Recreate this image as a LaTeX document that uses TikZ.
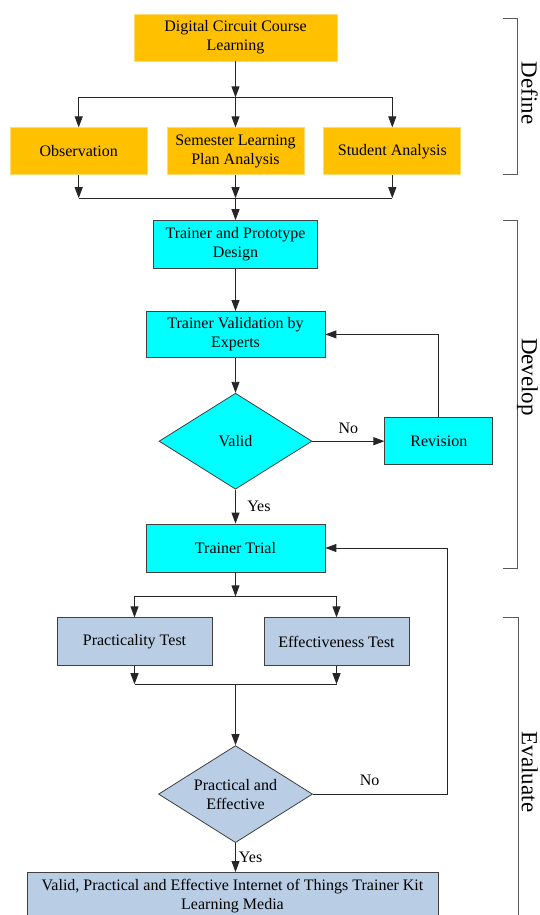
\documentclass[tikz,border=0pt]{standalone}
\usepackage{fontspec}
\setmainfont{Liberation Serif}
\usetikzlibrary{arrows.meta, positioning, shapes.geometric}
\definecolor{defineorange}{RGB}{255,192,0}
\definecolor{developcyan}{RGB}{0,255,255}
\definecolor{evalblue}{RGB}{185,205,229}
\definecolor{edgegray}{RGB}{64,64,64}

\begin{document}
\begin{tikzpicture}[
  x=1pt, y=-1pt,
  every node/.style={font=\fontsize{16}{19}\selectfont},
  box/.style={draw=edgegray, line width=0.8pt, align=center, inner sep=2pt, minimum height=47pt},
  definebox/.style={box, fill=defineorange, draw=defineorange!55!white},
  developbox/.style={box, fill=developcyan},
  evalbox/.style={box, fill=evalblue},
  decision/.style={diamond, draw=edgegray, line width=0.8pt, align=center, inner sep=0pt, aspect=1.6},
  arrow/.style={-{Triangle[length=11pt, width=8pt]}, line width=0.9pt, draw=black!85},
  link/.style={line width=0.9pt, draw=black!85},
  bracket/.style={line width=0.8pt, draw=black!65},
  phase/.style={rotate=-90, anchor=north, inner sep=1pt, font=\fontsize{23}{27}\selectfont},
]
  \useasboundingbox (0,0) rectangle (540,915);

  \node[definebox, minimum width=203pt] (course) at (235.5,37.5) {Digital Circuit Course\\Learning};
  \node[definebox, minimum width=137pt, below=66pt of course] (semester) {Semester Learning\\Plan Analysis};
  \node[definebox, minimum width=137pt, left=19pt of semester] (observation) {Observation};
  \node[definebox, minimum width=137pt, right=19pt of semester] (student) {Student Analysis};

  \node[developbox, minimum width=164pt, minimum height=48pt, below=45pt of semester] (design) {Trainer and Prototype\\Design};
  \node[developbox, minimum width=179pt, minimum height=46pt, below=42pt of design] (validation) {Trainer Validation by\\Experts};
  \node[decision, fill=developcyan, minimum width=153pt, minimum height=96pt, below=35pt of validation] (valid) {Valid};
  \node[developbox, minimum width=108pt, right=72pt of valid] (revision) {Revision};
  \node[developbox, minimum width=179pt, minimum height=48pt, below=34pt of valid] (trial) {Trainer Trial};

  \node[evalbox, minimum width=155pt, minimum height=48pt, below=45pt of trial, xshift=-101pt] (practicality) {Practicality Test};
  \node[evalbox, minimum width=145pt, minimum height=48pt, below=45pt of trial, xshift=101pt] (effectiveness) {Effectiveness Test};
  \coordinate[below=18pt of practicality] (pjoin);
  \coordinate (join2) at (pjoin -| trial);
  \node[decision, fill=evalblue, minimum width=154pt, minimum height=97pt, below=61pt of join2] (pe) {Practical and\\Effective};
  \node[evalbox, minimum width=411pt, minimum height=47pt, below=29pt of pe, xshift=-3pt] (media) {Valid, Practical and Effective Internet of Things Trainer Kit\\Learning Media};

  \coordinate[below=36pt of course] (split1);
  \coordinate[below=23pt of semester] (join1);
  \draw[arrow] (course) -- (split1);
  \draw[link] (split1 -| observation) -- (split1 -| student);
  \draw[arrow] (split1 -| observation) -- (observation);
  \draw[arrow] (split1) -- (semester);
  \draw[arrow] (split1 -| student) -- (student);
  \draw[arrow] (observation) -- (observation |- join1);
  \draw[arrow] (semester) -- (join1);
  \draw[arrow] (student) -- (student |- join1);
  \draw[link] (observation |- join1) -- (student |- join1);
  \draw[arrow] (join1) -- (design);

  \draw[arrow] (design) -- (validation);
  \draw[arrow] (validation) -- (valid);
  \draw[arrow] (valid) -- node[above=4pt]{No} (revision);
  \draw[arrow] (revision.north) |- (validation.east);
  \draw[arrow] (valid) -- node[right, xshift=8pt]{Yes} (trial);

  \coordinate[below=24pt of trial] (split2);
  \draw[arrow] (trial) -- (split2);
  \draw[link] (split2 -| practicality) -- (split2 -| effectiveness);
  \draw[arrow] (split2 -| practicality) -- (practicality);
  \draw[arrow] (split2 -| effectiveness) -- (effectiveness);
  \draw[arrow] (practicality) -- (pjoin);
  \draw[arrow] (effectiveness) -- (effectiveness |- pjoin);
  \draw[link] (pjoin) -- (effectiveness |- pjoin);
  \draw[arrow] (join2) -- (pe);
  \coordinate[right=135pt of pe.east] (noturn);
  \draw[arrow] (pe) -- node[above=5pt, pos=0.42]{No} (noturn) |- (trial);
  \draw[arrow] (pe.south) -- node[right, inner sep=3pt]{Yes} (pe.south |- media.north);

  \draw[bracket] (503,18) -- (517,18) -- (517,174) -- (503,174);
  \draw[bracket] (503,220) -- (517,220) -- (517,568) -- (503,568);
  \draw[bracket] (503,617) -- (518,617) -- (518,920);
  \node[phase] (define) at (539,93) {Define};
  \node[phase] (develop) at (539,377) {Develop};
  \node[phase] (evaluate) at (539,772) {Evaluate};
\end{tikzpicture}
\end{document}
